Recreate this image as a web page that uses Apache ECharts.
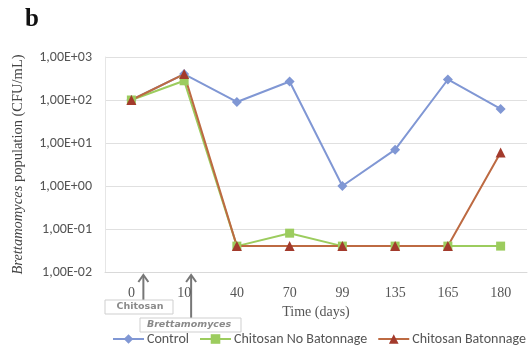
<!DOCTYPE html>
<html><head><meta charset="utf-8">
<script src="https://cdn.jsdelivr.net/npm/echarts@6/dist/echarts.min.js"></script>
<style>html,body{margin:0;padding:0;background:#fff}#c{width:530px;height:346px}</style>
</head><body><div id="c"></div>
<script>
const categories = ['0','10','40','70','99','135','165','180'];
const control = [100, 400, 90, 270, 1, 7, 300, 62];
const noBatonnage = [100, 280, 0.04, 0.08, 0.04, 0.04, 0.04, 0.04];
const batonnage = [100, 400, 0.04, 0.04, 0.04, 0.04, 0.04, 6];
const seriesNames = ['Control', 'Chitosan No Batonnage', 'Chitosan Batonnage'];
const annotations = ['Chitosan', 'Brettamomyces'];

const chart = echarts.init(document.getElementById('c'));
function fmt(v){
  const e = Math.round(Math.log10(v));
  const s = e < 0 ? '-' : '+';
  const a = Math.abs(e);
  return '1,00E' + s + (a < 10 ? '0' + a : a);
}
const sansFont = 'Carlito, Lato, "Open Sans", sans-serif';
const serifFont = '"Liberation Serif", "DejaVu Serif", serif';
chart.setOption({
  animation: false,
  grid: {left: 105, right: 3, top: 57, bottom: 74},
  legend: {
    top: 332, left: 112, padding: 0, itemWidth: 31, itemHeight: 12, itemGap: 10,
    textStyle: {fontFamily: sansFont, fontSize: 14, color: '#555', padding: [0,0,0,-2]},
    data: seriesNames
  },
  xAxis: {
    type: 'category', data: categories, boundaryGap: true,
    axisTick: {show: false},
    axisLine: {lineStyle: {color: '#d9d9d9'}},
    axisLabel: {fontFamily: serifFont, fontSize: 14, color: '#555', margin: 14},
    name: 'Time (days)', nameLocation: 'middle', nameGap: 25,
    nameTextStyle: {fontFamily: serifFont, fontSize: 14, color: '#555'}
  },
  yAxis: {
    type: 'log', logBase: 10, min: 0.01, max: 1000,
    axisLine: {show: true, lineStyle: {color: '#e6e6e6'}},
    axisTick: {show: false},
    splitLine: {lineStyle: {color: '#e0e0e0'}},
    axisLabel: {formatter: fmt, fontFamily: sansFont, fontSize: 14, color: '#555', margin: 13},
    name: '{i|Brettamomyces} population (CFU/mL)', nameLocation: 'middle', nameGap: 79,
    nameTextStyle: {fontFamily: serifFont, fontSize: 14.5, color: '#444',
      rich: {i: {fontStyle: 'italic', fontFamily: serifFont, fontSize: 14.5, color: '#444'}}}
  },
  series: [
    {name: seriesNames[0], type: 'line', data: control, symbol: 'diamond', symbolSize: 10,
     itemStyle: {color: '#8097d4'}, lineStyle: {width: 2, color: '#8097d4'}},
    {name: seriesNames[1], type: 'line', data: noBatonnage, symbol: 'rect', symbolSize: 9,
     itemStyle: {color: '#9ccc5e'}, lineStyle: {width: 2, color: '#9ccc5e'}},
    {name: seriesNames[2], type: 'line', data: batonnage, symbol: 'triangle', symbolSize: 10,
     itemStyle: {color: '#a33a2c'}, lineStyle: {width: 2, color: '#bd6a42'}}
  ]
});

function drawAnnotations(){
  const p0 = chart.convertToPixel({xAxisIndex: 0}, categories[0]);
  const p1 = chart.convertToPixel({xAxisIndex: 0}, categories[1]);
  const yb = chart.convertToPixel({yAxisIndex: 0}, 0.01);
  const a0 = p0 + 12, a1 = p1 + 7;
  const arrow = (x, y2) => ([
    {type: 'line', shape: {x1: x, y1: y2, x2: x, y2: yb + 4}, style: {stroke: '#777', lineWidth: 2}},
    {type: 'polyline', shape: {points: [[x-5, yb+10], [x, yb+3], [x+5, yb+10]]}, style: {stroke: '#777', lineWidth: 2, fill: null}}
  ]);
  chart.setOption({graphic: [
    ...arrow(a0, yb + 28),
    ...arrow(a1, yb + 46),
    {type: 'rect', shape: {x: 105, y: yb + 28, width: 68, height: 14}, style: {fill: '#fff', stroke: '#cfcfcf', lineWidth: 1}},
    {type: 'text', style: {text: annotations[0], x: 140, y: yb + 35, align: 'center', verticalAlign: 'middle',
      font: 'bold 9.5px "DejaVu Sans", sans-serif', fill: '#8a8a8a'}},
    {type: 'rect', shape: {x: 140, y: yb + 46, width: 101, height: 14}, style: {fill: '#fff', stroke: '#cfcfcf', lineWidth: 1}},
    {type: 'text', style: {text: annotations[1], x: 189, y: yb + 53, align: 'center', verticalAlign: 'middle',
      font: 'italic bold 9.5px "DejaVu Sans", sans-serif', fill: '#8a8a8a'}},
    {type: 'text', style: {text: 'b', x: 25, y: 7, font: 'bold 25px "Liberation Serif", serif', fill: '#111'}}
  ]});
}
drawAnnotations();
</script>
</body></html>
